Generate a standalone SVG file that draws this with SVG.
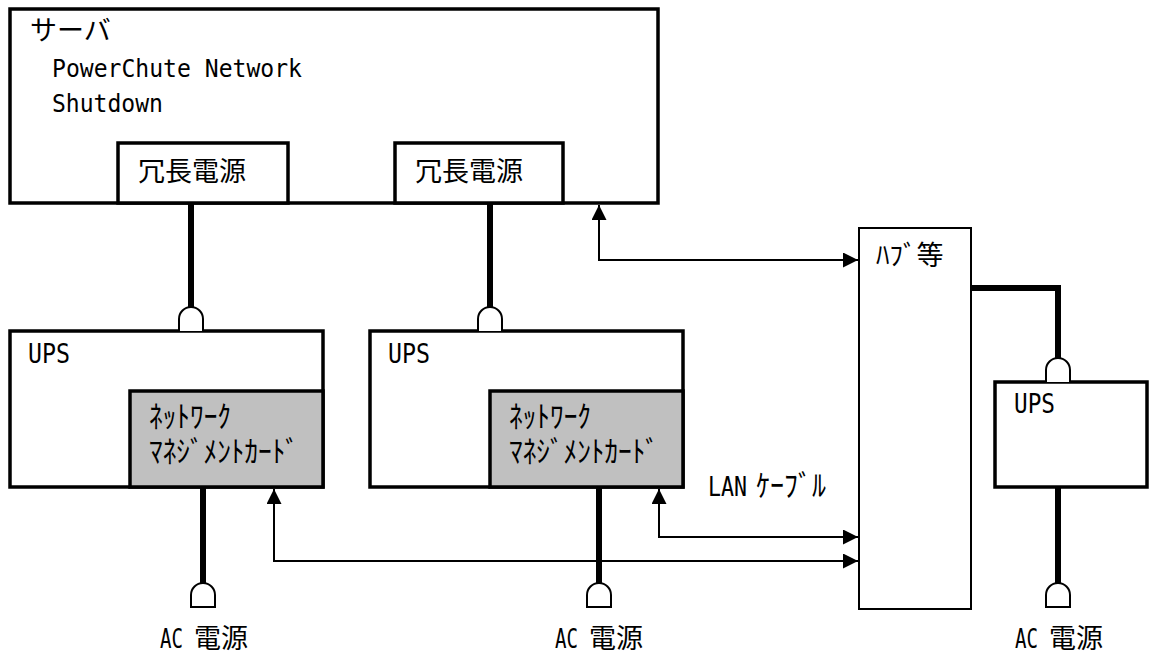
<svg xmlns="http://www.w3.org/2000/svg" width="1149" height="654" viewBox="0 0 1149 654">
<style>
.box{fill:#fff;stroke:#000;stroke-width:3.5}
.card{fill:#c0c0c0;stroke:#000;stroke-width:3.5}
.hub{fill:#fff;stroke:#000;stroke-width:2}
.pw{fill:none;stroke:#000;stroke-width:6}
.plug{fill:#fff;stroke:#000;stroke-width:2}
.lan{fill:none;stroke:#000;stroke-width:2;marker-start:url(#ah);marker-end:url(#ah)}
.j{font-family:"Noto Sans CJK JP",sans-serif;font-size:27px;fill:#000}
.k{font-family:"Noto Sans CJK JP",sans-serif;font-size:30px;fill:#000}
.l{font-family:"DejaVu Sans Mono",monospace;font-size:27px;fill:#000}
.ls{font-family:"DejaVu Sans Mono",monospace;font-size:25px;fill:#000}
</style>
<defs>
<marker id="ah" markerUnits="userSpaceOnUse" markerWidth="15" markerHeight="15" refX="15" refY="7.5" orient="auto-start-reverse" viewBox="0 0 15 15">
<path d="M0,0 L15,7.5 L0,15 z" fill="#000"/>
</marker>
</defs>

<g id="connectors">
<path class="pw" d="M191,203 V309"/>
<path class="pw" d="M490,203 V309"/>
<path class="pw" d="M971,288 H1058 V360"/>
<path class="pw" d="M203,487 V584"/>
<path class="pw" d="M599,487 V584"/>
<path class="pw" d="M1058,487 V584"/>
<path class="lan" d="M599,205 V260 H858"/>
<path class="lan" d="M274,489 V561 H858"/>
<path class="lan" d="M659,489 V537 H858"/>
</g>

<g id="server">
<rect class="box" x="10" y="9" width="648" height="194"/>
<text class="j" x="30" y="40">サーバ</text>
<text class="ls" x="52" y="77" textLength="250" lengthAdjust="spacingAndGlyphs">PowerChute Network</text>
<text class="ls" x="52" y="112" textLength="111" lengthAdjust="spacingAndGlyphs">Shutdown</text>
</g>
<g id="psu1">
<rect class="box" x="118" y="143" width="170" height="60"/>
<text class="j" x="138" y="181">冗長電源</text>
</g>
<g id="psu2">
<rect class="box" x="395" y="143" width="168" height="60"/>
<text class="j" x="415" y="181">冗長電源</text>
</g>

<g id="ups1">
<rect class="box" x="10" y="331" width="313" height="156"/>
<text class="l" x="28" y="363" textLength="42" lengthAdjust="spacingAndGlyphs">UPS</text>
<path class="plug" d="M179,331 V319 A12,12 0 0 1 203,319 V331"/>
</g>
<g id="nmc1">
<rect class="card" x="130" y="391" width="193" height="96"/>
<text class="k"><tspan x="149" y="427" textLength="82" lengthAdjust="spacingAndGlyphs">ﾈｯﾄﾜｰｸ</tspan><tspan x="149" y="462" textLength="150" lengthAdjust="spacingAndGlyphs">ﾏﾈｼﾞﾒﾝﾄｶｰﾄﾞ</tspan></text>
</g>

<g id="ups2">
<rect class="box" x="370" y="331" width="313" height="156"/>
<text class="l" x="388" y="363" textLength="42" lengthAdjust="spacingAndGlyphs">UPS</text>
<path class="plug" d="M478,331 V319 A12,12 0 0 1 502,319 V331"/>
</g>
<g id="nmc2">
<rect class="card" x="490" y="391" width="193" height="96"/>
<text class="k"><tspan x="509" y="427" textLength="82" lengthAdjust="spacingAndGlyphs">ﾈｯﾄﾜｰｸ</tspan><tspan x="509" y="462" textLength="150" lengthAdjust="spacingAndGlyphs">ﾏﾈｼﾞﾒﾝﾄｶｰﾄﾞ</tspan></text>
</g>

<g id="hub">
<rect class="hub" x="859" y="228" width="112" height="381"/>
<text class="j" x="876" y="265">ﾊﾌﾞ等</text>
</g>

<g id="ups3">
<rect class="box" x="995" y="382" width="152" height="105"/>
<text class="l" x="1014" y="413" textLength="41" lengthAdjust="spacingAndGlyphs">UPS</text>
<path class="plug" d="M1046,382 V370 A12,12 0 0 1 1070,370 V382"/>
</g>

<g id="ac1">
<path class="plug" d="M191,607 V595 A12,12 0 0 1 215,595 V607 Z"/>
<text class="j" y="648"><tspan class="l" x="160" textLength="23" lengthAdjust="spacingAndGlyphs">AC</tspan><tspan x="194">電源</tspan></text>
</g>
<g id="ac2">
<path class="plug" d="M587,607 V595 A12,12 0 0 1 611,595 V607 Z"/>
<text class="j" y="648"><tspan class="l" x="555" textLength="23" lengthAdjust="spacingAndGlyphs">AC</tspan><tspan x="589">電源</tspan></text>
</g>
<g id="ac3">
<path class="plug" d="M1046,607 V595 A12,12 0 0 1 1070,595 V607 Z"/>
<text class="j" y="648"><tspan class="l" x="1015" textLength="23" lengthAdjust="spacingAndGlyphs">AC</tspan><tspan x="1049">電源</tspan></text>
</g>

<g id="lan-label">
<text class="k" y="496"><tspan class="l" x="708" textLength="39" lengthAdjust="spacingAndGlyphs">LAN</tspan><tspan x="756" textLength="70" lengthAdjust="spacingAndGlyphs">ｹｰﾌﾞﾙ</tspan></text>
</g>
</svg>
